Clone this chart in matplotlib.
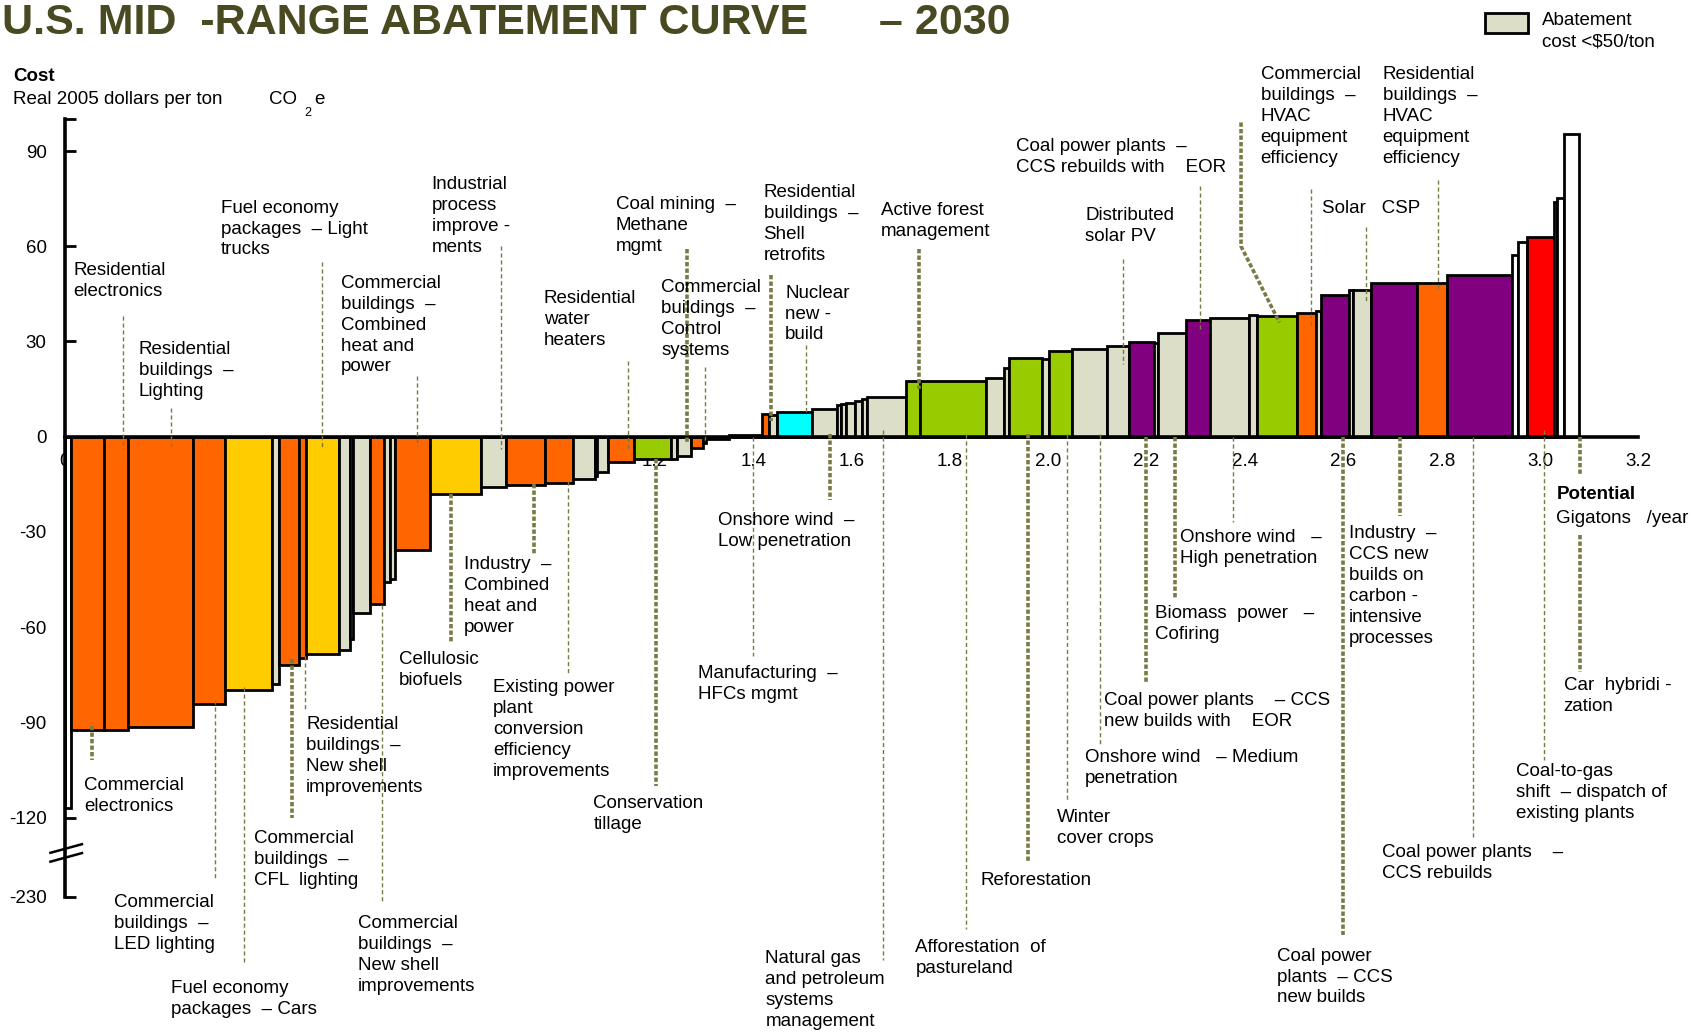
import numpy as np
import matplotlib.pyplot as plt
from matplotlib.patches import Rectangle

plt.rcParams['font.family'] = ['Liberation Sans', 'DejaVu Sans']

# potential (Gt CO2e / year) at the bar boundaries
edges = [0.000, 0.013, 0.079, 0.129, 0.260, 0.325, 0.421, 0.436, 0.477, 0.491,
         0.558, 0.581, 0.587, 0.620, 0.649, 0.661, 0.672, 0.743, 0.846, 0.897,
         0.977, 1.033, 1.078, 1.083, 1.105, 1.158, 1.233, 1.245, 1.274, 1.298,
         1.305, 1.350, 1.418, 1.432, 1.449, 1.519, 1.571, 1.579, 1.588, 1.608,
         1.622, 1.632, 1.710, 1.740, 1.873, 1.910, 1.920, 1.987, 2.001, 2.048,
         2.120, 2.164, 2.215, 2.224, 2.281, 2.329, 2.409, 2.424, 2.505, 2.545,
         2.555, 2.612, 2.620, 2.656, 2.750, 2.811, 2.942, 2.956, 2.973, 3.028,
         3.034, 3.048, 3.079]

# cost, real 2005 $ per ton CO2e
costs = [-117, -92.3, -92.3, -91.6, -84.2, -79.8, -77.9, -71.9, -69.8, -68.5,
         -67.2, -63.6, -55.5, -52.7, -45.7, -44.7, -35.7, -18.1, -16.0, -15.2,
         -14.5, -13.3, -12.5, -11.1, -8.1, -7.0, -6.9, -6.0, -3.6, -1.9,
         -0.6, 0.5, 7.0, 6.8, 7.8, 8.6, 9.9, 10.4, 10.7, 11.4,
         12.0, 12.5, 17.4, 17.4, 18.6, 21.5, 24.8, 24.6, 26.9, 27.5,
         28.5, 29.8, 29.5, 32.6, 36.8, 37.5, 38.2, 38.0, 39.0, 39.5,
         44.5, 46.3, 46.3, 48.3, 48.3, 51.1, 57.3, 61.3, 62.8, 73.9,
         75.1, 95.4]

groups = ['w', 'o', 'o', 'o', 'o', 'y', 'b', 'o', 'o', 'y',
          'b', 'b', 'b', 'o', 'b', 'b', 'o', 'y', 'b', 'o',
          'o', 'b', 'b', 'b', 'o', 'g', 'b', 'b', 'o', 'b',
          'b', 'b', 'o', 'b', 'c', 'b', 'b', 'b', 'b', 'b',
          'b', 'b', 'g', 'g', 'b', 'b', 'g', 'b', 'g', 'b',
          'b', 'p', 'b', 'b', 'p', 'b', 'b', 'g', 'o', 'b',
          'p', 'b', 'b', 'p', 'o', 'p', 'w', 'w', 'r', 'w',
          'w', 'w']

palette = {'o': '#FF6600', 'y': '#FFCC00', 'b': '#DCDEC8', 'g': '#99CC00',
           'c': '#00FFFF', 'p': '#800080', 'r': '#FF0000', 'w': '#FFFFFF'}

x_ticks = [0.0, 0.2, 0.4, 0.6, 0.8, 1.0, 1.2, 1.4, 1.6, 1.8, 2.0, 2.2, 2.4,
           2.6, 2.8, 3.0, 3.2]
y_ticks = [90, 60, 30, 0, -30, -60, -90, -120, -230]

# (text, x, y top, leader x, leader from, leader to, thick)
upper_labels = [
    ('Residential\nelectronics', 0.018, 55.0, 0.119, 38, -4, False),
    ('Residential\nbuildings  –\nLighting', 0.151, 30.2, 0.217, 9, -3, False),
    ('Fuel economy\npackages  – Light\ntrucks', 0.318, 74.7, 0.524, 55, -4, False),
    ('Industrial\nprocess\nimprove -\nments', 0.746, 82.2, 0.887, 60, -4, False),
    ('Commercial\nbuildings  –\nCombined\nheat and\npower', 0.561, 51.0, 0.717, 19, -3, False),
    ('Residential\nwater\nheaters', 0.974, 46.2, 1.146, 24, -4, False),
    ('Coal mining  –\nMethane\nmgmt', 1.121, 75.7, 1.266, 59, -2, True),
    ('Commercial\nbuildings  –\nControl\nsystems', 1.213, 49.6, 1.301, 22, -1, False),
    ('Residential\nbuildings  –\nShell\nretrofits', 1.421, 79.5, 1.437, 51, 5, True),
    ('Nuclear\nnew -\nbuild', 1.465, 47.9, 1.507, 29, 7.6, False),
    ('Active forest\nmanagement', 1.660, 74.0, 1.738, 59, 15, True),
    ('Coal power plants  –\nCCS rebuilds with    EOR', 1.934, 94.1, 2.309, 79, 33, False),
    ('Distributed\nsolar PV', 2.075, 72.4, 2.153, 56, 23, False),
    ('Commercial\nbuildings  –\nHVAC\nequipment\nefficiency', 2.432, 116.8, 2.534, 78, 35, False),
    ('Residential\nbuildings  –\nHVAC\nequipment\nefficiency', 2.680, 116.8, 2.792, 81, 46, False),
    ('Solar   CSP', 2.557, 74.7, 2.646, 66, 42, False),
]

lower_labels = [
    ('Commercial\nelectronics', 0.039, -107.3, 0.056, -91, -102, True),
    ('Commercial\nbuildings  –\nLED lighting', 0.101, -144.0, 0.305, -83, -139, False),
    ('Fuel economy\npackages  – Cars', 0.217, -171.2, 0.365, -79, -166, False),
    ('Commercial\nbuildings  –\nCFL  lighting', 0.384, -124.0, 0.462, -70, -120, True),
    ('Residential\nbuildings  –\nNew shell\nimprovements', 0.491, -88.0, 0.488, -69, -86, False),
    ('Commercial\nbuildings  –\nNew shell\nimprovements', 0.596, -150.8, 0.646, -53, -147, False),
    ('Cellulosic\nbiofuels', 0.680, -67.6, 0.786, -18, -65, True),
    ('Industry  –\nCombined\nheat and\npower', 0.811, -37.7, 0.955, -15, -37, True),
    ('Existing power\nplant\nconversion\nefficiency\nimprovements', 0.871, -76.4, 1.023, -14, -75, False),
    ('Conservation\ntillage', 1.075, -112.8, 1.203, -7, -110, True),
    ('Onshore wind  –\nLow penetration', 1.329, -23.8, 1.557, 1, -20, True),
    ('Manufacturing  –\nHFCs mgmt', 1.287, -72.0, 1.400, 0, -69, False),
    ('Natural gas\nand petroleum\nsystems\nmanagement', 1.425, -161.7, 1.664, 2, -165, False),
    ('Afforestation  of\npastureland', 1.730, -158.3, 1.833, 1, -155, False),
    ('Reforestation', 1.862, -137.2, 1.959, 1, -134, True),
    ('Winter\ncover crops', 2.018, -117.2, 2.038, 1, -115, False),
    ('Onshore wind   – Medium\npenetration', 2.075, -98.5, 2.106, 1, -97, False),
    ('Coal power plants    – CCS\nnew builds with    EOR', 2.114, -80.5, 2.199, 0, -78, True),
    ('Biomass  power   –\nCofiring', 2.217, -53.0, 2.257, 0, -51, True),
    ('Onshore wind   –\nHigh penetration', 2.268, -29.2, 2.375, 0, -27, False),
    ('Industry  –\nCCS new\nbuilds on\ncarbon -\nintensive\nprocesses', 2.612, -27.9, 2.715, 0, -25, True),
    ('Coal power\nplants  – CCS\nnew builds', 2.465, -161.0, 2.599, 0, -157, True),
    ('Coal power plants    –\nCCS rebuilds', 2.678, -128.4, 2.863, 0, -126, False),
    ('Coal-to-gas\nshift  – dispatch of\nexisting plants', 2.952, -102.9, 3.009, 2, -102, False),
    ('Car  hybridi -\nzation', 3.048, -75.7, 3.082, -31, -74, True),
]

FS = 13.5
LS = 1.3


def ymap(v):
    # compress everything below -120 (broken axis)
    v = np.asarray(v, dtype=float)
    return np.where(v >= -120, v, -120 + (v + 120) * 25.0 / 110.0)


lefts = np.array(edges[:-1])
widths = np.diff(edges)
heights = ymap(costs)
colors = [palette[g] for g in groups]

fig = plt.figure(figsize=(16.91, 10.34), dpi=100)
ax = fig.add_axes([0, 0, 1, 1])
ax.set_xlim(-0.1316, 3.307)
ax.set_ylim(-188.2, 137.6)

ax.bar(lefts, heights, width=widths, align='edge', color=colors,
       edgecolor='black', linewidth=2, zorder=3)

# axes
for s in ['top', 'right']:
    ax.spines[s].set_visible(False)
ax.spines['left'].set_position(('data', 0))
ax.spines['bottom'].set_position(('data', 0))
ax.spines['left'].set_bounds(ymap(-230), 100.2)
ax.spines['bottom'].set_bounds(0, 3.2)
ax.spines['left'].set_linewidth(2.6)
ax.spines['bottom'].set_linewidth(2.6)
ax.spines['left'].set_zorder(4)
ax.spines['bottom'].set_zorder(4)

ax.set_xticks(x_ticks)
ax.set_xticklabels(['0' if t == 0 else '%.1f' % t for t in x_ticks])
ax.tick_params(axis='x', length=0, pad=12, labelsize=FS)
ax.set_yticks(list(ymap(y_ticks)) + [100.2])
ax.set_yticklabels([str(t) for t in y_ticks] + [''])
ax.tick_params(axis='y', direction='in', length=8, width=2, pad=13,
               labelsize=FS)

# axis break marks
for off in [0, -2.8]:
    ax.plot([-0.029, 0.035], [-131.1 + off, -128.4 + off], color='black',
            lw=1.8, zorder=5, clip_on=False)

lead_col = '#7A7A45'


def leader(x, y0, y1, thick):
    if thick:
        ax.plot([x, x], [y0, y1], color=lead_col, lw=2.6,
                linestyle=(0, (1.2, 0.6)), zorder=6)
    else:
        ax.plot([x, x], [y0, y1], color=lead_col, lw=1.0,
                linestyle=(0, (3, 2)), zorder=6)


for txt, x, y, lx, l0, l1, thick in upper_labels + lower_labels:
    ax.text(x, y, txt, ha='left', va='top', fontsize=FS, linespacing=LS,
            zorder=7)
    leader(lx, l0, l1, thick)

# extra leader pieces
leader(3.082, 0, -12, True)
ax.plot([2.392, 2.392, 2.470], [99, 60, 36], color=lead_col, lw=2.6,
        linestyle=(0, (1.2, 0.6)), zorder=6)

ax.text(3.033, -15.6, 'Potential', fontsize=FS, fontweight='bold',
        ha='left', va='top')
ax.text(3.033, -23.1, 'Gigatons   /year', fontsize=FS, ha='left', va='top')

# headers
fig.text(0.001, 0.997, 'U.S. MID  -RANGE ABATEMENT CURVE', fontsize=31,
         fontweight='bold', color='#4A4A22', ha='left', va='top',
         family=['Liberation Sans Narrow', 'Liberation Sans'])
fig.text(0.520, 0.997, '– 2030', fontsize=31, fontweight='bold',
         color='#4A4A22', ha='left', va='top',
         family=['Liberation Sans Narrow', 'Liberation Sans'])
fig.text(0.0077, 0.934, 'Cost', fontsize=FS, fontweight='bold',
         ha='left', va='top')
fig.text(0.0077, 0.912, 'Real 2005 dollars per ton', fontsize=FS,
         ha='left', va='top')
fig.text(0.159, 0.912, 'CO', fontsize=FS, ha='left', va='top')
fig.text(0.180, 0.897, '2', fontsize=9, ha='left', va='top')
fig.text(0.186, 0.912, 'e', fontsize=FS, ha='left', va='top')

# legend box
fig.patches.append(Rectangle((0.878, 0.968), 0.0255, 0.019,
                             transform=fig.transFigure, facecolor='#DCDEC8',
                             edgecolor='black', linewidth=2))
fig.text(0.912, 0.988, 'Abatement\ncost <\\$50/ton', fontsize=FS,
         ha='left', va='top', linespacing=LS)

fig.savefig('out.png', dpi=100)
